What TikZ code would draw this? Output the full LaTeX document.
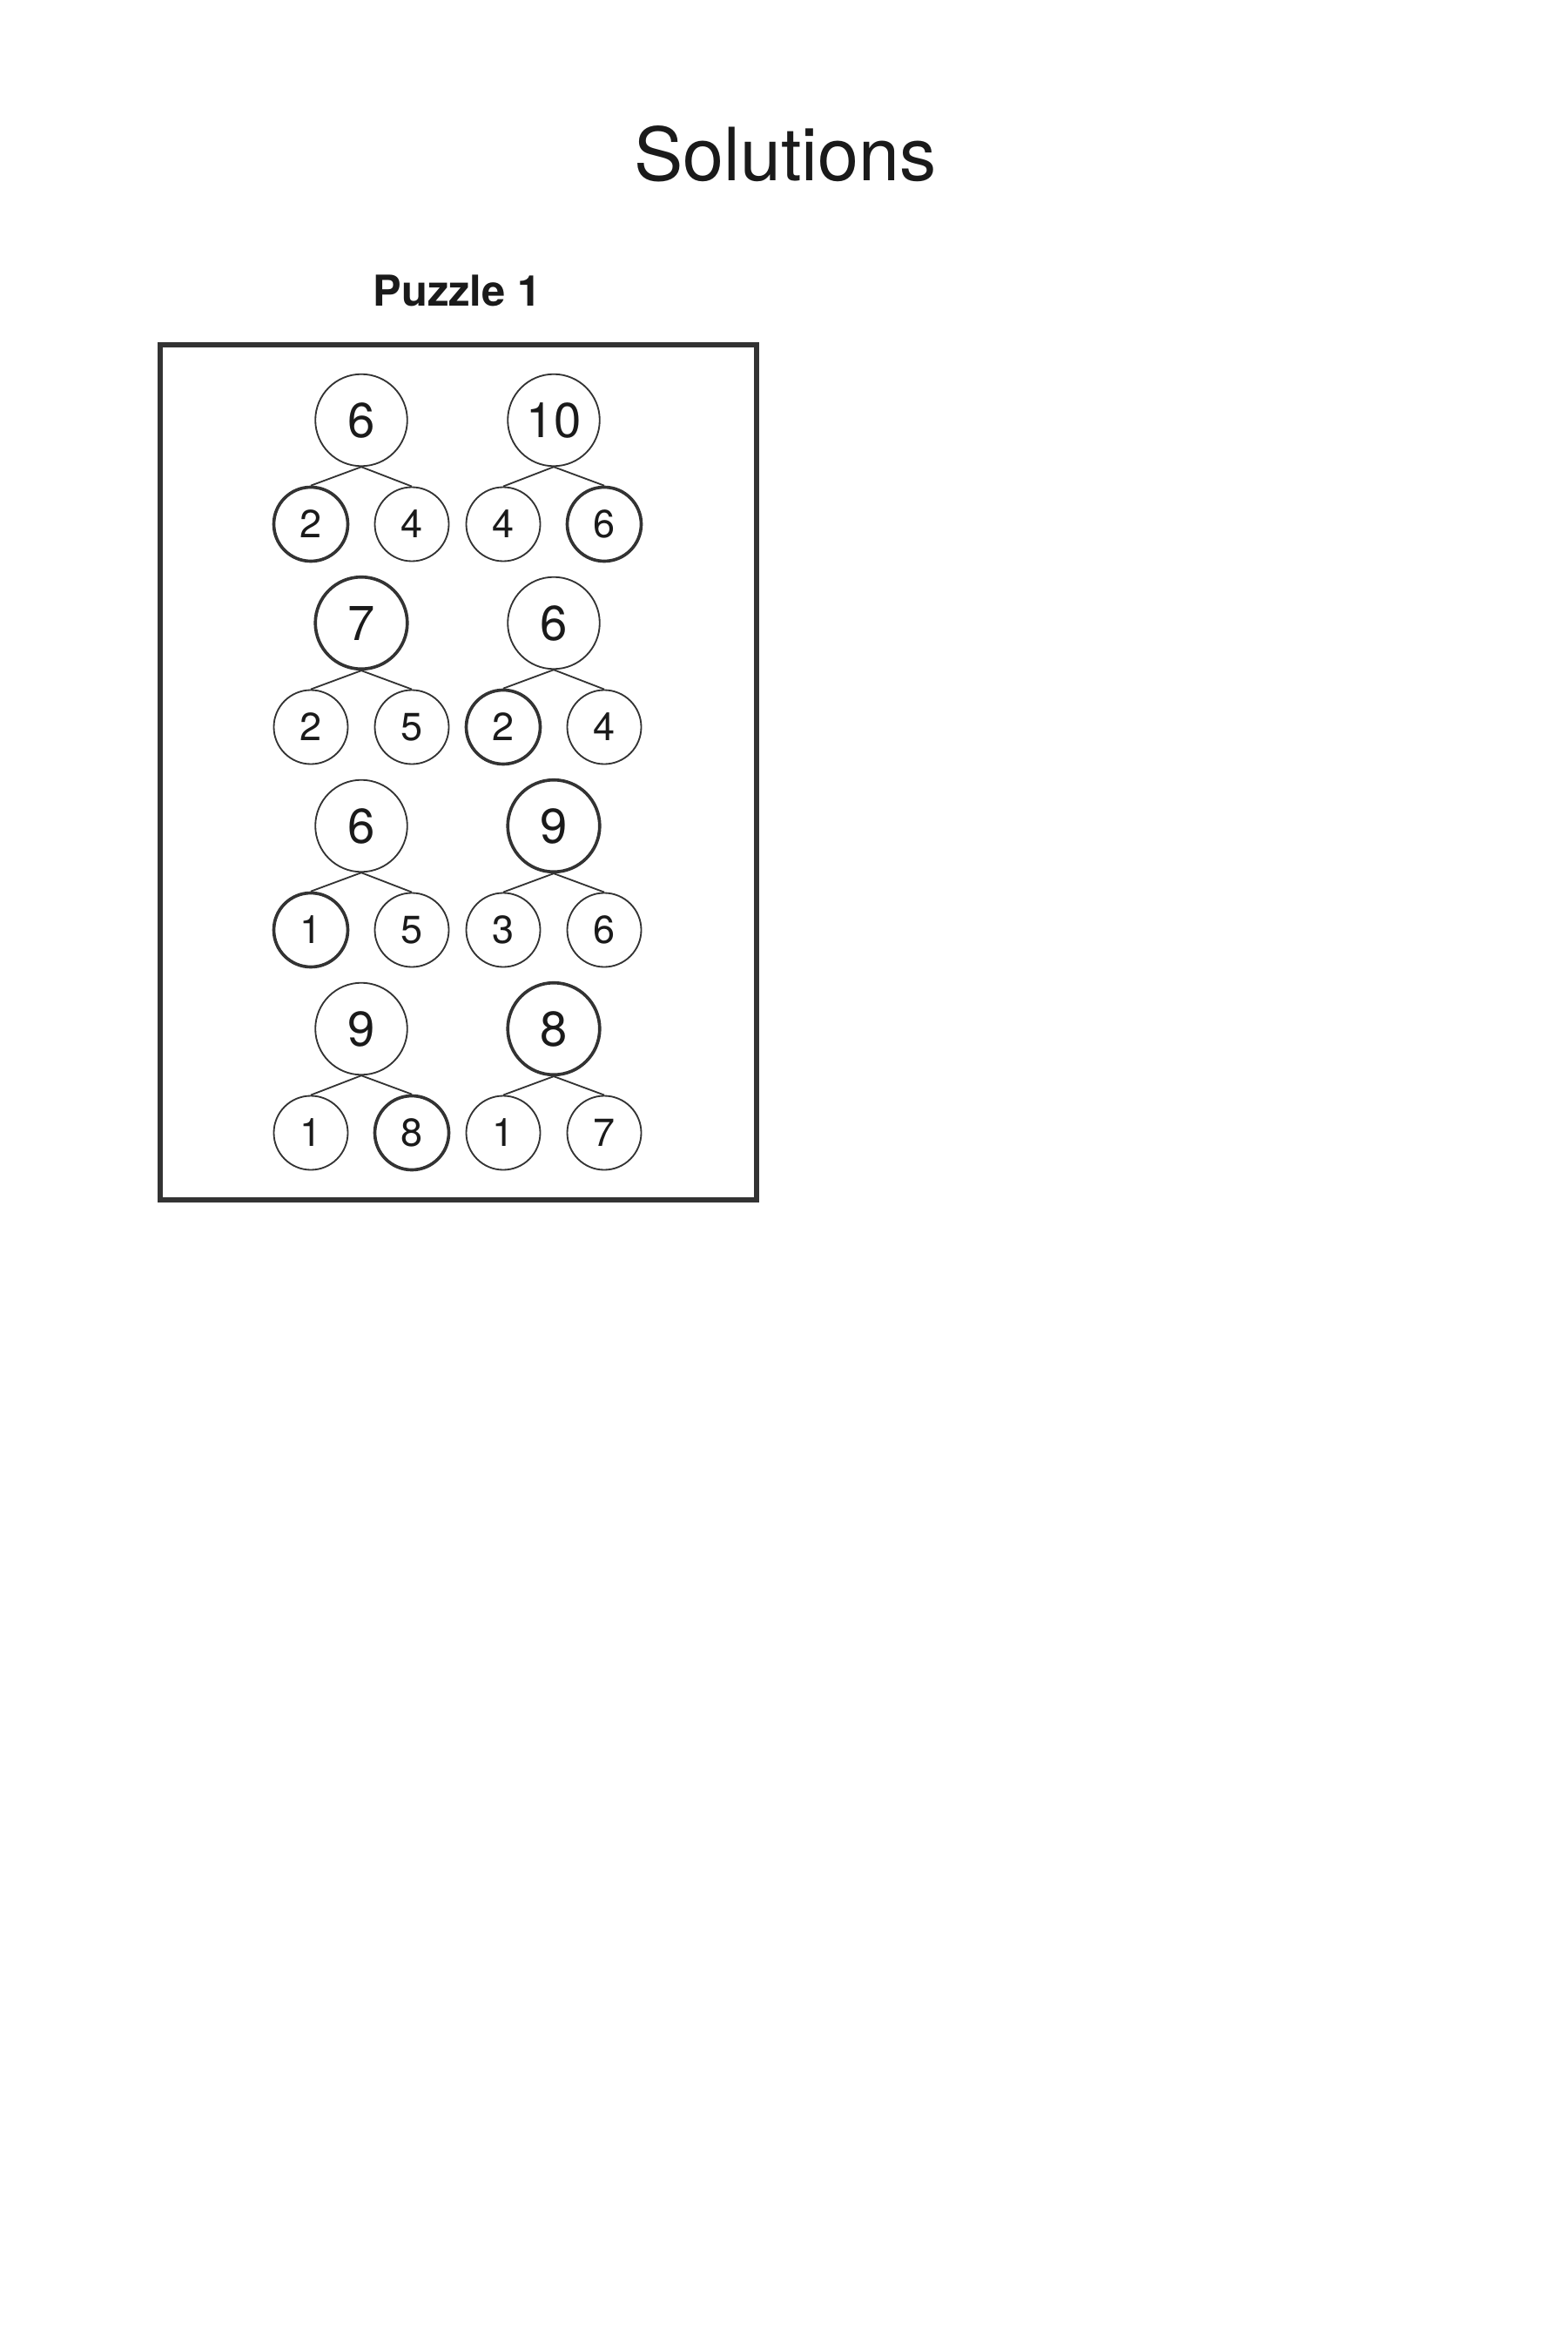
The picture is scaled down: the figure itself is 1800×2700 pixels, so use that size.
\documentclass[tikz,border=0pt]{standalone}
\usepackage{fontspec}
\setmainfont{TeX Gyre Heros}
\usepackage{xcolor}
\usetikzlibrary{positioning}
\definecolor{ink}{HTML}{333333}
\definecolor{type}{HTML}{1A1A1A}
\tikzset{%
	ring/.style     = {line width=#1*0.52pt},
	wholenum/.style = {draw=ink, circle, inner sep=0pt, minimum size=10.56mm, text=type, font=\fontsize{16}{16}\selectfont},
	partnum/.style  = {draw=ink, circle, inner sep=0pt, minimum size=8.5mm, text=type, font=\fontsize{12.8}{12.8}\selectfont},
	branch/.style   = {draw=ink, line width=0.52pt},
	frame/.style    = {draw=ink, line width=1.7pt},
}

\begin{document}
\begin{tikzpicture}[x=0.1mm,y=-0.1mm]
		\useasboundingbox (0,0) rectangle (1800,2700);
		
		% headings
		\node[anchor=base,text=type,font=\fontsize{24}{24}\selectfont] (title) at (902,208) {Solutions};
		\node[anchor=base,text=type,font=\fontsize{13.9}{13.9}\selectfont\bfseries] (puzzle) at (525,352) {Puzzle 1};
		
		\draw[frame] (184,396) rectangle (869,1378);
		
		% number bonds: n / x / y / whole / left / right / ring widths
		\foreach \n/\x/\y/\w/\l/\r/\ww/\wl/\wr in {1/415/482.5/6/2/4/1/2/1, 2/636/482.5/10/4/6/1/1/2, 3/415/715.5/7/2/5/2/1/1, 4/636/715.5/6/2/4/1/2/1, 5/415/948.5/6/1/5/1/2/1, 6/636/948.5/9/3/6/2/1/1, 7/415/1181.5/9/1/8/1/1/2, 8/636/1181.5/8/1/7/2/1/1}
		{
			\node[wholenum,ring=\ww] (whole\n) at (\x,\y) {\w};
			\node[partnum,ring=\wl] (partl\n) at ([shift={(-58,119.5)}]whole\n) {\l};
			\node[partnum,ring=\wr] (partr\n) at ([shift={(58,119.5)}]whole\n) {\r};
			\draw[branch] (whole\n.south) -- (partl\n.north);
			\draw[branch] (whole\n.south) -- (partr\n.north);
		}
		
\end{tikzpicture}
\end{document}
